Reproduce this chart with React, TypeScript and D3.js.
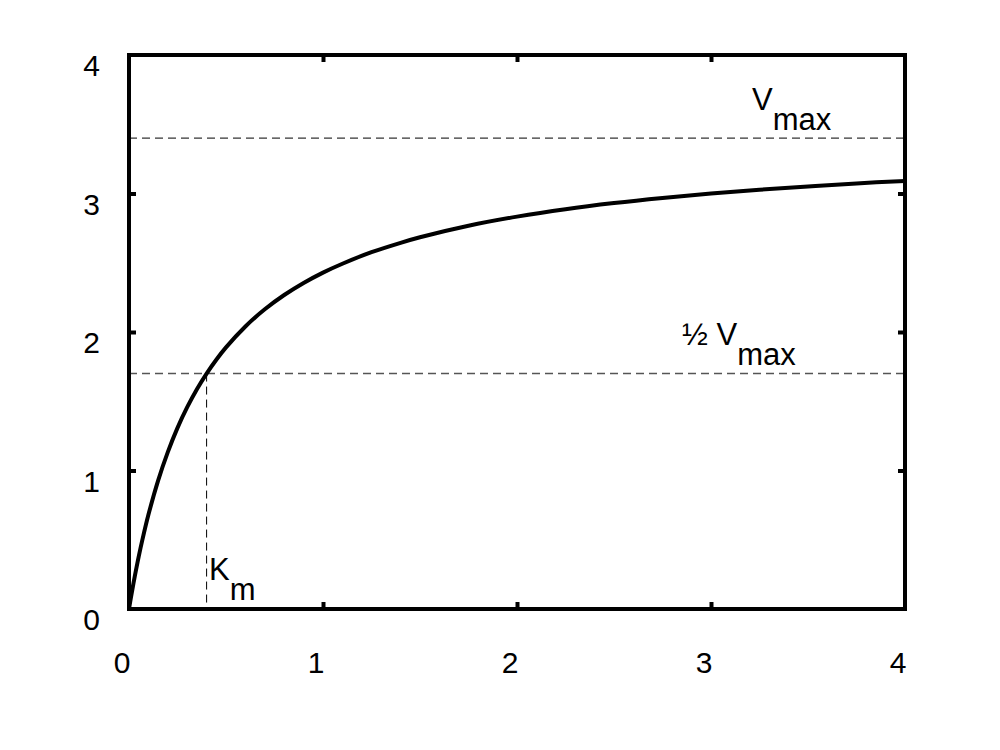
import React, { useEffect, useRef } from 'react';
import * as d3 from 'd3';

// substrate concentration vs reaction rate
const substrate = [0, 0.01, 0.02, 0.03, 0.05, 0.07, 0.1, 0.15, 0.2, 0.25, 0.3, 0.35, 0.4, 0.45, 0.5, 0.6, 0.7, 0.8, 0.9, 1.0, 1.1, 1.25, 1.4, 1.5, 1.75, 2.0, 2.25, 2.5, 2.75, 3.0, 3.25, 3.5, 3.75, 4.0];
const rate = [0, 0.083, 0.162, 0.237, 0.378, 0.506, 0.68, 0.927, 1.133, 1.308, 1.457, 1.587, 1.7, 1.8, 1.889, 2.04, 2.164, 2.267, 2.354, 2.429, 2.493, 2.576, 2.644, 2.684, 2.767, 2.833, 2.887, 2.931, 2.968, 3.0, 3.027, 3.051, 3.073, 3.091];
const vmax = 3.4;
const km = 0.4;
const xTicks = [0, 1, 2, 3, 4];
const yTicks = [0, 1, 2, 3, 4];

const App: React.FC = () => {
  const svgRef = useRef<SVGSVGElement>(null);
  const width = 1000;
  const height = 750;

  useEffect(() => {
    if (!svgRef.current) return;
    const svg = d3.select(svgRef.current);
    svg.selectAll("*").remove();

    const left = 129, right = 905, top = 55, bottom = 609;
    const font = "'Liberation Sans', Arial, sans-serif";

    const x = d3.scaleLinear().domain([0, 4]).range([left, right]);
    const y = d3.scaleLinear().domain([0, 4]).range([bottom, top]);

    svg.append("rect").attr("width", width).attr("height", height).attr("fill", "#fff");

    // inner ticks on all four sides
    const inner = xTicks.slice(1, -1);
    const innerY = yTicks.slice(1, -1);
    const tickStyle = (sel: any) => {
      sel.select(".domain").remove();
      sel.selectAll("line").attr("stroke", "#000").attr("stroke-width", 4);
    };
    svg.append("g").attr("transform", `translate(${left},0)`)
      .call(d3.axisLeft(y).tickValues(innerY).tickSize(-7).tickFormat(() => "")).call(tickStyle);
    svg.append("g").attr("transform", `translate(${right},0)`)
      .call(d3.axisRight(y).tickValues(innerY).tickSize(-7).tickFormat(() => "")).call(tickStyle);
    svg.append("g").attr("transform", `translate(0,${bottom})`)
      .call(d3.axisBottom(x).tickValues(inner).tickSize(-7).tickFormat(() => "")).call(tickStyle);
    svg.append("g").attr("transform", `translate(0,${top})`)
      .call(d3.axisTop(x).tickValues(inner).tickSize(-7).tickFormat(() => "")).call(tickStyle);

    // tick labels
    svg.append("g").selectAll("text").data(xTicks).enter().append("text")
      .attr("x", d => x(d) - 7).attr("y", bottom + 64)
      .attr("text-anchor", "middle").attr("fill", "#000")
      .style("font-family", font).style("font-size", "30px")
      .text(d => String(d));
    svg.append("g").selectAll("text").data(yTicks).enter().append("text")
      .attr("x", left - 29).attr("y", d => y(d) + 21)
      .attr("text-anchor", "end").attr("fill", "#000")
      .style("font-family", font).style("font-size", "30px")
      .text(d => String(d));

    // reference lines
    svg.append("line")
      .attr("x1", x(0)).attr("x2", x(4)).attr("y1", y(vmax)).attr("y2", y(vmax))
      .attr("stroke", "#000").attr("stroke-width", 1).attr("stroke-dasharray", "8,5");
    svg.append("line")
      .attr("x1", x(0)).attr("x2", x(4)).attr("y1", y(vmax / 2)).attr("y2", y(vmax / 2))
      .attr("stroke", "#555").attr("stroke-width", 1.5).attr("stroke-dasharray", "8,5");
    svg.append("line")
      .attr("x1", x(km)).attr("x2", x(km)).attr("y1", y(vmax / 2)).attr("y2", y(0))
      .attr("stroke", "#000").attr("stroke-width", 1).attr("stroke-dasharray", "8,5");

    // curve
    const pts: [number, number][] = substrate.map((s, i) => [s, rate[i]]);
    const line = d3.line<[number, number]>().x(d => x(d[0])).y(d => y(d[1])).curve(d3.curveCatmullRom);
    svg.append("path").datum(pts).attr("d", line)
      .attr("fill", "none").attr("stroke", "#000").attr("stroke-width", 4);

    // frame
    svg.append("rect").attr("x", left).attr("y", top).attr("width", right - left).attr("height", bottom - top)
      .attr("fill", "none").attr("stroke", "#000").attr("stroke-width", 4);

    // annotations
    const label = (px: number, py: number, main: string, sub: string) => {
      const t = svg.append("text").attr("x", px).attr("y", py).attr("fill", "#000")
        .style("font-family", font).style("font-size", "31px");
      t.append("tspan").text(main);
      t.append("tspan").attr("dy", 20).text(sub);
    };
    label(752, 110, "V", "max");
    label(682, 345, "\u00BD V", "max");
    label(209, 580, "K", "m");
  }, []);

  return (
    <svg ref={svgRef} width={width} height={height} viewBox={`0 0 ${width} ${height}`}
      style={{ position: "absolute", left: 0, top: 0, display: "block" }} />
  );
};

export default App;
